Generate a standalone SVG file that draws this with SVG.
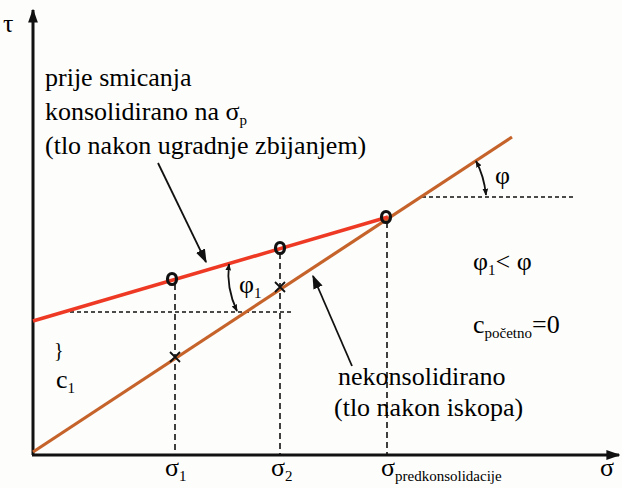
<svg xmlns="http://www.w3.org/2000/svg" width="622" height="488" viewBox="0 0 622 488">
<defs>
<marker id="ah" viewBox="0 0 10 10" refX="9" refY="5" markerWidth="7" markerHeight="7" orient="auto-start-reverse" markerUnits="userSpaceOnUse">
<path d="M0,1 L10,5 L0,9 Z" fill="#111"/>
</marker>
<marker id="ahs" viewBox="0 0 10 10" refX="9" refY="5" markerWidth="14" markerHeight="14" orient="auto-start-reverse" markerUnits="userSpaceOnUse">
<path d="M0,1.5 L10,5 L0,8.5 Z" fill="#111"/>
</marker>
</defs>
<rect width="622" height="488" fill="#fdfdfb"/>
<g id="axes" stroke="#111" stroke-width="3" fill="none">
<line x1="33" y1="455" x2="33" y2="10" marker-end="url(#ahs)"/>
<line x1="32" y1="455" x2="619" y2="455" marker-end="url(#ahs)"/>
</g>
<g id="connectors" fill="none">
<g stroke="#111" stroke-width="1.6" stroke-dasharray="6,4">
<line x1="175" y1="284" x2="175" y2="455"/>
<line x1="280" y1="253" x2="280" y2="455"/>
<line x1="387" y1="222" x2="387" y2="455"/>
</g>
<g stroke="#111" stroke-width="1.6" stroke-dasharray="4,3">
<line x1="63" y1="312" x2="292" y2="312"/>
<line x1="422" y1="197" x2="573" y2="197"/>
</g>
<line x1="33" y1="452" x2="512" y2="137" stroke="#c5632b" stroke-width="3.2"/>
<line x1="33" y1="321" x2="388" y2="217" stroke="#ee3a24" stroke-width="3.6"/>
<g stroke="#111" stroke-width="1.8">
<path d="M229,264 Q226,288 237,311" marker-start="url(#ah)" marker-end="url(#ah)"/>
<path d="M476,161 Q484,176 486,195" marker-start="url(#ah)" marker-end="url(#ah)"/>
<line x1="158" y1="163" x2="206" y2="262" marker-end="url(#ahs)"/>
<line x1="352" y1="366" x2="313" y2="276" marker-end="url(#ahs)"/>
</g>
</g>
<g id="points" fill="none" stroke="#111">
<g stroke-width="3.2">
<ellipse cx="172" cy="279" rx="4.5" ry="5.5"/>
<ellipse cx="280" cy="248" rx="4.5" ry="5.5"/>
<ellipse cx="386" cy="217" rx="4.5" ry="5.5"/>
</g>
<g stroke-width="1.8">
<path d="M170,352 L180,362 M180,352 L170,362"/>
<path d="M275,282 L285,292 M285,282 L275,292"/>
</g>
</g>
<g id="labels">
<text x="3" y="32" font-size="26" style="font-family:'Liberation Serif',serif">τ</text>
<text x="600" y="476" font-size="26" style="font-family:'Liberation Serif',serif">σ</text>
<text x="45" y="86" font-size="26" style="font-family:'Liberation Serif',serif">prije smicanja</text>
<text x="45" y="120" font-size="26" style="font-family:'Liberation Serif',serif">konsolidirano na σ<tspan font-size="15" dy="5">p</tspan></text>
<text x="45" y="154" font-size="26" style="font-family:'Liberation Serif',serif">(tlo nakon ugradnje zbijanjem)</text>
<text x="239" y="293" font-size="26" style="font-family:'Liberation Serif',serif">φ<tspan font-size="15" dy="5">1</tspan></text>
<text x="495" y="184" font-size="26" style="font-family:'Liberation Serif',serif">φ</text>
<text x="473" y="270" font-size="26" style="font-family:'Liberation Serif',serif">φ<tspan font-size="15" dy="5">1</tspan><tspan dy="-5">&lt; φ</tspan></text>
<text x="473" y="333" font-size="26" style="font-family:'Liberation Serif',serif">c<tspan font-size="15" dy="5">početno</tspan><tspan dy="-5">=0</tspan></text>
<text x="338" y="385" font-size="26" style="font-family:'Liberation Serif',serif">nekonsolidirano</text>
<text x="334" y="416" font-size="26" style="font-family:'Liberation Serif',serif">(tlo nakon iskopa)</text>
<text x="54" y="357" font-size="20" style="font-family:'Liberation Serif',serif">}</text>
<text x="56" y="388" font-size="26" style="font-family:'Liberation Serif',serif">c<tspan font-size="15" dy="5">1</tspan></text>
<text x="165" y="476" font-size="26" style="font-family:'Liberation Serif',serif">σ<tspan font-size="15" dy="5">1</tspan></text>
<text x="271" y="476" font-size="26" style="font-family:'Liberation Serif',serif">σ<tspan font-size="15" dy="5">2</tspan></text>
<text x="381" y="476" font-size="26" style="font-family:'Liberation Serif',serif">σ<tspan font-size="15" dy="5">predkonsolidacije</tspan></text>
</g>
</svg>
